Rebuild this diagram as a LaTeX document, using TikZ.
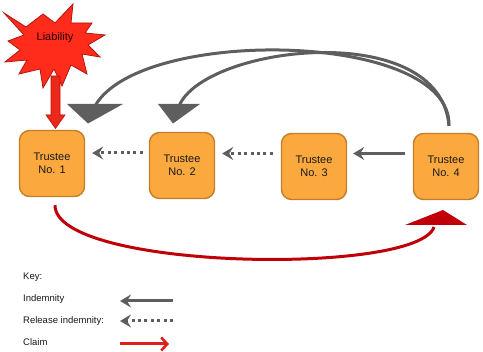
\documentclass[tikz,border=0pt]{standalone}
\usepackage{fontspec}
\setmainfont{Liberation Sans}
\usetikzlibrary{arrows.meta}
\definecolor{boxfill}{HTML}{FBA93F}
\definecolor{boxedge}{HTML}{C47E2A}
\definecolor{arrgray}{HTML}{5E5E5E}
\definecolor{claimred}{HTML}{C00008}
\definecolor{keyred}{HTML}{E01E1A}
\definecolor{starfill}{HTML}{FF2C1C}
\definecolor{staredge}{HTML}{B5140E}
\tikzset{
  trustee/.style={draw=boxedge, line width=1.4pt, fill=boxfill, rounded corners=10pt,
    minimum width=65pt, minimum height=66pt, align=center, font=\fontsize{11}{13}\selectfont, text=black!90},
  indem/.style={draw=arrgray, line width=3pt, -{Stealth[length=11pt,width=13pt,inset=4pt]}},
  release/.style={indem, dash pattern=on 3pt off 3.4pt},
  bigcurve/.style={draw=arrgray, line width=3pt},
  keytext/.style={anchor=west, font=\fontsize{9.5}{11}\selectfont, text=black!90, inner sep=0pt},
}
\begin{document}
\begin{tikzpicture}[x=1pt, y=-1pt]
\useasboundingbox (0,0) rectangle (483,352);
% trustees
\node[trustee] (t1) at (52,163.5) {Trustee\\No. 1};
\node[trustee] (t2) at (182,165.5) {Trustee\\No. 2};
\node[trustee] (t3) at (314,166.5) {Trustee\\No. 3};
\node[trustee] (t4) at (446,166.5) {Trustee\\No. 4};
% liability star
\filldraw[fill=starfill, draw=staredge, line width=0.8pt]
  (4,13) -- (26,27) -- (43,14) -- (55,23) -- (73,4) -- (71,23) -- (92,23) -- (85,33)
  -- (105,35) -- (88,45) -- (100,57) -- (82,54) -- (87,74) -- (71,65) -- (62,86)
  -- (54,69) -- (43,88) -- (40,69) -- (19,74) -- (27,60) -- (5,62) -- (20,50)
  -- (8,41) -- (24,35) -- cycle;
\node[font=\fontsize{11}{13}\selectfont, text=black!85!red] (liab) at (55,38) {Liability};
% liability block arrow
\filldraw[fill=starfill!92!black, draw=staredge, line width=0.6pt]
  (51,76) -- (51,115) -- (46,115) -- (55.5,128.5) -- (65,115) -- (60,115) -- (60,76) -- cycle;
% horizontal indemnity arrows
\draw[release, shorten <=6pt, shorten >=7pt] ([yshift=12.5pt]t2.west) -- ([yshift=10.5pt]t1.east);
\draw[release, shorten <=8pt, shorten >=7pt] ([yshift=13pt]t3.west) -- ([yshift=12pt]t2.east);
\draw[indem, shorten <=8pt, shorten >=6pt] ([yshift=13pt]t4.west) -- ([yshift=13pt]t3.east);
% big curved arrows
\coordinate (h1) at (95,106);
\coordinate (h2) at (179,106);
\draw[bigcurve]
  ([xshift=3pt,yshift=7pt]t4.north) .. controls +(3,-95) and +(45,-80) .. (h1);
\draw[bigcurve]
  ([xshift=3pt,yshift=7pt]t4.north) .. controls +(-9,-108) and +(26,-61) .. (h2);
\fill[arrgray] (67,104) -- (123,104) -- (88,123.5) -- cycle;
\fill[arrgray] (158,104) -- (200,104) -- (173,123.5) -- cycle;
% claim curve
\coordinate (h3) at (434,227);
\draw[draw=claimred, line width=3pt]
  ([xshift=3pt,yshift=-8pt]t1.south) .. controls +(0,65) and +(-16,49) .. (h3);
\fill[claimred] (405,225) -- (467,225) -- (443,210) -- cycle;
% key
\node[keytext] (kkey) at (23,277) {Key:};
\node[keytext] (kind) at (23,299) {Indemnity};
\node[keytext] (krel) at (23,321) {Release indemnity:};
\node[keytext] (kcl) at (23,342) {Claim};
\coordinate (ia) at (173,301); \coordinate (ib) at (120,301);
\coordinate (ra) at (173,321); \coordinate (rb) at (120,321);
\coordinate (ca) at (120,344); \coordinate (cb) at (169,344);
\draw[indem] (ia) -- (ib);
\draw[release] (ra) -- (rb);
\draw[draw=keyred, line width=3pt, -{Straight Barb[length=6pt,width=13pt,line width=2.6pt]}] (ca) -- (cb);
\end{tikzpicture}
\end{document}
